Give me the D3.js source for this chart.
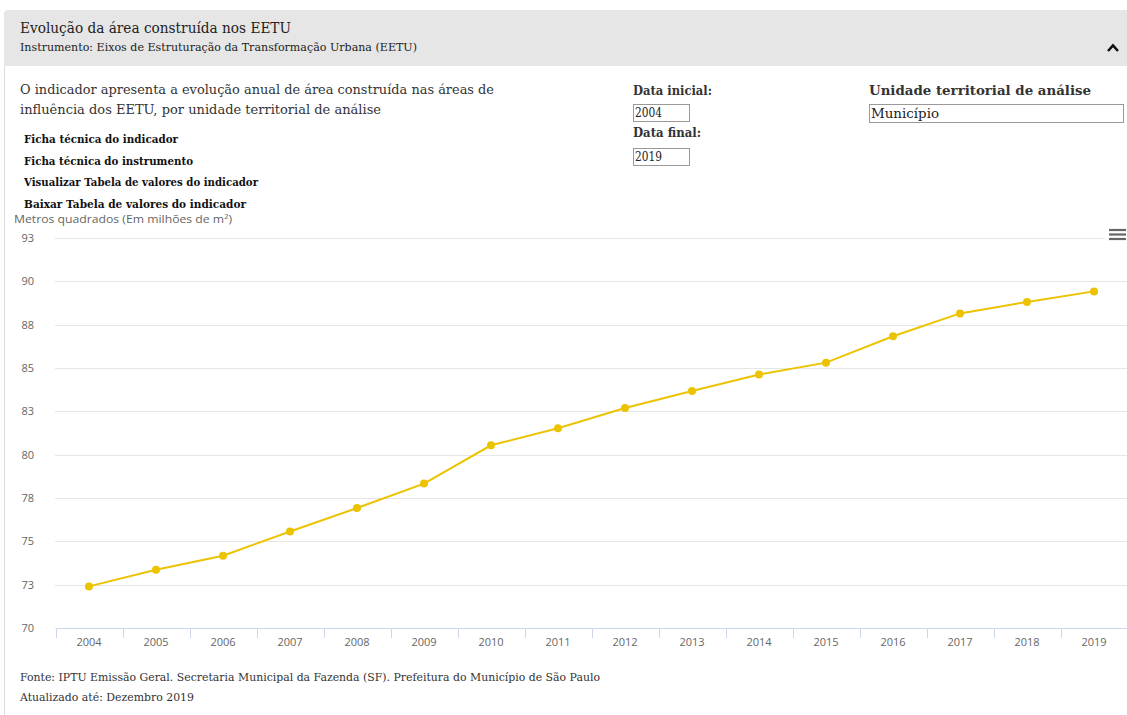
<!DOCTYPE html>
<html><head><meta charset="utf-8">
<script src="https://cdn.jsdelivr.net/npm/d3@7"></script>
<style>html,body{margin:0;padding:0;background:#fff;}svg{display:block;}</style>
</head><body>
<script>
const years = ["2004","2005","2006","2007","2008","2009","2010","2011","2012","2013","2014","2015","2016","2017","2018","2019"];
const values = [72.40,73.36,74.17,75.57,76.92,78.33,80.54,81.52,82.69,83.67,84.62,85.31,86.83,88.15,88.81,89.42];
const yTickValues = [70,72.5,75,77.5,80,82.5,85,87.5,90,92.5];
const yTickLabels = ["70","73","75","78","80","83","85","88","90","93"];
const title = "Evolução da área construída nos EETU";
const subtitle = "Instrumento: Eixos de Estruturação da Transformação Urbana (EETU)";
const descLines = ["O indicador apresenta a evolução anual de área construída nas áreas de","influência dos EETU, por unidade territorial de análise"];
const links = ["Ficha técnica do indicador","Ficha técnica do instrumento","Visualizar Tabela de valores do indicador","Baixar Tabela de valores do indicador"];
const yTitle = "Metros quadrados (Em milhões de m²)";
const footer = ["Fonte: IPTU Emissão Geral. Secretaria Municipal da Fazenda (SF). Prefeitura do Município de São Paulo","Atualizado até: Dezembro 2019"];

const W = 1127, H = 715;
const serif = "'DejaVu Serif', serif";
const sans = "'Open Sans', 'DejaVu Sans', sans-serif";
const svg = d3.select("body").append("svg").attr("width", W).attr("height", H);

// panel
svg.append("line").attr("x1",4.5).attr("x2",4.5).attr("y1",12).attr("y2",H).attr("stroke","#dcdcdc");
svg.append("path").attr("d","M4,66 L4,14 Q4,10 8,10 L1127,10 L1127,66 Z").attr("fill","#e6e6e6");
svg.append("text").attr("x",20).attr("y",33).attr("font-family",serif).attr("font-size",14.5).attr("fill","#222")
  .attr("textLength",271).attr("lengthAdjust","spacingAndGlyphs").text(title);
svg.append("text").attr("x",20).attr("y",51).attr("font-family",serif).attr("font-size",10.5).attr("fill","#222")
  .attr("textLength",397).attr("lengthAdjust","spacingAndGlyphs").text(subtitle);
// caret
svg.append("path").attr("d","M1108,51 L1113,45.5 L1118,51").attr("fill","none").attr("stroke","#111").attr("stroke-width",2.6);

// description
const descW = [474, 361];
descLines.forEach((t,i)=>{
  svg.append("text").attr("x",20).attr("y",94+i*19.5).attr("font-family",serif).attr("font-size",12.5).attr("fill","#333")
    .attr("textLength",descW[i]).attr("lengthAdjust","spacingAndGlyphs").text(t);
});
const linkW = [154, 169, 234, 222];
links.forEach((t,i)=>{
  svg.append("text").attr("x",24).attr("y",143+i*21.5).attr("font-family",serif).attr("font-size",11).attr("font-weight","bold").attr("fill","#111")
    .attr("textLength",linkW[i]).attr("lengthAdjust","spacingAndGlyphs").text(t);
});
svg.append("text").attr("x",14).attr("y",223).attr("font-family",sans).attr("font-size",11).attr("fill","#666")
  .attr("textLength",218).attr("lengthAdjust","spacingAndGlyphs").text(yTitle);

// controls
function label(x,y,t,w){svg.append("text").attr("x",x).attr("y",y).attr("font-family",serif).attr("font-size",12.5).attr("font-weight","bold").attr("fill","#333")
  .attr("textLength",w).attr("lengthAdjust","spacingAndGlyphs").text(t);}
function box(x,y,w,h,t,tw){
  svg.append("rect").attr("x",x+0.5).attr("y",y+0.5).attr("width",w).attr("height",h).attr("fill","#fff").attr("stroke","#999");
  svg.append("text").attr("x",x+2).attr("y",y+h-4).attr("font-family",serif).attr("font-size",12).attr("fill","#222")
    .attr("textLength",tw).attr("lengthAdjust","spacingAndGlyphs").text(t);
}
label(633,95,"Data inicial:",79);
box(633,104,56,17,"2004",27);
label(633,137,"Data final:",68);
box(633,148,56,17,"2019",27);
label(869,95,"Unidade territorial de análise",222);
box(869,104,254,18,"Município",68);

// chart
const x = d3.scaleBand().domain(years).range([55.5,1127.5]).padding(0);
const y = d3.scaleLinear().domain([70,92.5]).range([628,238]);

const grid = svg.append("g");
grid.selectAll("line").data(yTickValues.slice(1)).join("line")
  .attr("x1",55).attr("x2",1127).attr("y1",d=>Math.round(y(d))+0.5).attr("y2",d=>Math.round(y(d))+0.5)
  .attr("stroke","#e6e6e6").attr("stroke-width",1);

const yAxis = d3.axisLeft(y).tickValues(yTickValues).tickSize(0).tickFormat((d,i)=>yTickLabels[i]);
const gy = svg.append("g").attr("transform","translate(37,0)").call(yAxis);
gy.select(".domain").remove();
gy.selectAll("text").attr("font-family",sans).attr("font-size",11).attr("fill","#666").attr("dx",0).attr("dy","0.32em");

const xAxis = d3.axisBottom(x).tickSize(0);
const gx = svg.append("g").attr("transform","translate(0,628.5)").call(xAxis);
gx.select(".domain").attr("stroke","#ccd6eb").attr("d","M55.5,0H1127.5");
gx.selectAll("text").attr("font-family",sans).attr("font-size",11).attr("fill","#666").attr("dy","0").attr("y",17);
// boundary ticks
svg.append("g").selectAll("line").data(years).join("line")
  .attr("x1",d=>Math.round(x(d))+0.5).attr("x2",d=>Math.round(x(d))+0.5)
  .attr("y1",628).attr("y2",638).attr("stroke","#ccd6eb");

const color = "#ecc300";
const line = d3.line().x((d,i)=>x(years[i])+x.bandwidth()/2).y(d=>y(d));
svg.append("path").datum(values).attr("d",line).attr("fill","none").attr("stroke",color).attr("stroke-width",2);
svg.append("g").selectAll("circle").data(values).join("circle")
  .attr("cx",(d,i)=>x(years[i])+x.bandwidth()/2).attr("cy",d=>y(d)).attr("r",4).attr("fill",color);

// menu icon
svg.append("rect").attr("x",1105).attr("y",226).attr("width",22).attr("height",18).attr("fill","#fff");
[230,234.5,239].forEach(yy=>svg.append("line").attr("x1",1109).attr("x2",1126).attr("y1",yy).attr("y2",yy).attr("stroke","#666").attr("stroke-width",2.2));

// footer
const footW = [580, 174];
footer.forEach((t,i)=>{
  svg.append("text").attr("x",20).attr("y",681+i*20).attr("font-family",serif).attr("font-size",10.5).attr("fill","#333")
    .attr("textLength",footW[i]).attr("lengthAdjust","spacingAndGlyphs").text(t);
});
</script>
</body></html>
